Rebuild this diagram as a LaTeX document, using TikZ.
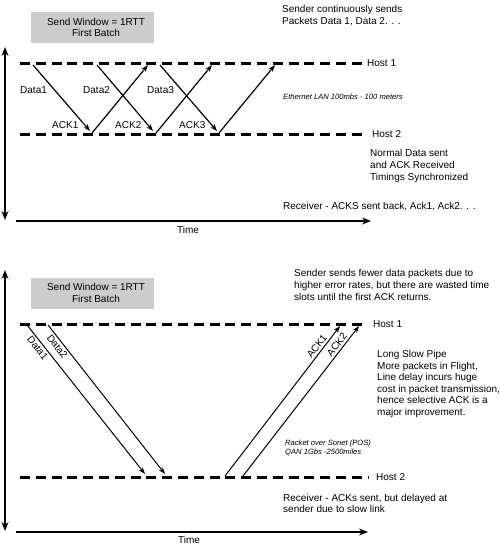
\documentclass[tikz,border=0pt]{standalone}
\usepackage{fontspec}
\setmainfont{Liberation Sans}
\usetikzlibrary{arrows.meta}
\begin{document}
\begin{tikzpicture}[x=1pt,y=-1pt,
  host/.style={line width=3pt, dash pattern=on 10pt off 5.8pt},
  msg/.style={line width=1.2pt, -{Stealth[length=7pt,width=5pt]}},
  msgthin/.style={line width=1pt, -{Stealth[length=7pt,width=5pt]}},
  axis/.style={line width=1.3pt, -{Stealth[length=9pt,width=7pt]}},
  axis2/.style={line width=1.3pt, {Stealth[length=9pt,width=7pt]}-{Stealth[length=9pt,width=7pt]}},
  txt/.style={font=\fontsize{10}{11.6}\selectfont, inner sep=0pt, align=left},
  small/.style={font=\fontsize{7.6}{9}\selectfont\itshape, inner sep=0pt, align=left},
  win/.style={fill=black!20, minimum width=123pt, minimum height=31pt, inner sep=0pt}]
\useasboundingbox (0,0) rectangle (500,546);

% ---------------- top diagram ----------------
\node[win] (box1) at (92.5,27.5) {};
\node[txt, align=center] (box1t) at (96,27.5) {Send Window = 1RTT\\First Batch};
\node[txt, anchor=west] (snd1) at (282,15.5) {Sender continuously sends\\Packets Data 1, Data 2. . .};

\coordinate (v1t) at (5,47);
\coordinate (v1b) at (5,220);
\draw[axis2] (v1b) -- (v1t);

\node[txt, anchor=west] (h1a) at (367,63) {Host 1};
\node[txt, anchor=west] (h2a) at (372,134) {Host 2};
\coordinate (h1s) at (20,63);  \coordinate (h1e) at (364,63);
\coordinate (h2s) at (20,134); \coordinate (h2e) at (365,134);
\draw[host] (h1s) -- (h1e);
\draw[host] (h2s) -- (h2e);

\coordinate (d1s) at (33,65);  \coordinate (d1e) at (90,131);
\coordinate (a1s) at (92,133); \coordinate (a1e) at (148,65);
\coordinate (d2s) at (97,65);  \coordinate (d2e) at (153,131);
\coordinate (a2s) at (156,133);\coordinate (a2e) at (212,65);
\coordinate (d3s) at (160,65); \coordinate (d3e) at (217,131);
\coordinate (a3s) at (219,133);\coordinate (a3e) at (275,65);
\draw[msg] (d1s) -- (d1e);
\draw[msg] (a1s) -- (a1e);
\draw[msg] (d2s) -- (d2e);
\draw[msg] (a2s) -- (a2e);
\draw[msg] (d3s) -- (d3e);
\draw[msg] (a3s) -- (a3e);

\node[txt, anchor=west] (ld1) at (20,90) {Data1};
\node[txt, anchor=west] (ld2) at (83,90) {Data2};
\node[txt, anchor=west] (ld3) at (147,90) {Data3};
\node[txt, anchor=west] (la1) at (52,125) {ACK1};
\node[txt, anchor=west] (la2) at (115,125) {ACK2};
\node[txt, anchor=west] (la3) at (179,125) {ACK3};

\node[small, anchor=west] (eth) at (283,97) {Ethernet LAN 100mbs - 100 meters};
\node[txt, anchor=west] (norm) at (370,166) {Normal Data sent\\and ACK Received\\Timings Synchronized};
\node[txt, anchor=west] (rcv1) at (283,207) {Receiver - ACKS sent back, Ack1, Ack2. . .};

\coordinate (t1s) at (16,221); \coordinate (t1e) at (371,221);
\draw[axis] (t1s) -- (t1e);
\node[txt] (time1) at (188,230) {Time};

% ---------------- bottom diagram ----------------
\node[win] (box2) at (92.5,293.5) {};
\node[txt, align=center] (box2t) at (96,293) {Send Window = 1RTT\\First Batch};
\node[txt, anchor=west] (snd2) at (294,285) {Sender sends fewer data packets due to\\higher error rates, but there are wasted time\\slots until the first ACK returns.};

\coordinate (v2t) at (5,270);
\coordinate (v2b) at (5,531);
\draw[axis2] (v2b) -- (v2t);

\node[txt, anchor=west] (h1b) at (373,324) {Host 1};
\node[txt, anchor=west] (h2b) at (376,477) {Host 2};
\coordinate (H1s) at (20,324);  \coordinate (H1e) at (366,324);
\coordinate (H2s) at (20,477);  \coordinate (H2e) at (369,477);
\draw[host] (H1s) -- (H1e);
\draw[host] (H2s) -- (H2e);

\coordinate (D1s) at (27,325);  \coordinate (D1e) at (145,474);
\coordinate (D2s) at (48,325);  \coordinate (D2e) at (165,474);
\coordinate (A1s) at (225,476); \coordinate (A1e) at (340,326);
\coordinate (A2s) at (243,476); \coordinate (A2e) at (359,326);
\draw[msgthin] (D1s) -- node[txt, sloped, below=2pt, pos=0.13] (lD1) {Data1} (D1e);
\draw[msgthin] (D2s) -- node[txt, sloped, below=2pt, pos=0.12] (lD2) {Data2} (D2e);
\draw[msgthin] (A1s) -- node[txt, sloped, above=2pt, pos=0.84] (lA1) {ACK1} (A1e);
\draw[msgthin] (A2s) -- node[txt, sloped, above=2pt, pos=0.85] (lA2) {ACK2} (A2e);

\node[txt, anchor=west] (pipe) at (377,384) {Long Slow Pipe\\More packets in Flight,\\Line delay incurs huge\\cost in packet transmission,\\hence selective ACK is a\\major improvement.};
\node[small, anchor=west] (pos) at (285,447.5) {Racket over Sonet (POS)\\QAN 1Gbs -2500miles};
\node[txt, anchor=west] (rcv2) at (283,503.5) {Receiver - ACKs sent, but delayed at\\sender due to slow link};

\coordinate (t2s) at (16,532); \coordinate (t2e) at (368,532);
\draw[axis] (t2s) -- (t2e);
\node[txt] (time2) at (189,540) {Time};
\end{tikzpicture}
\end{document}
